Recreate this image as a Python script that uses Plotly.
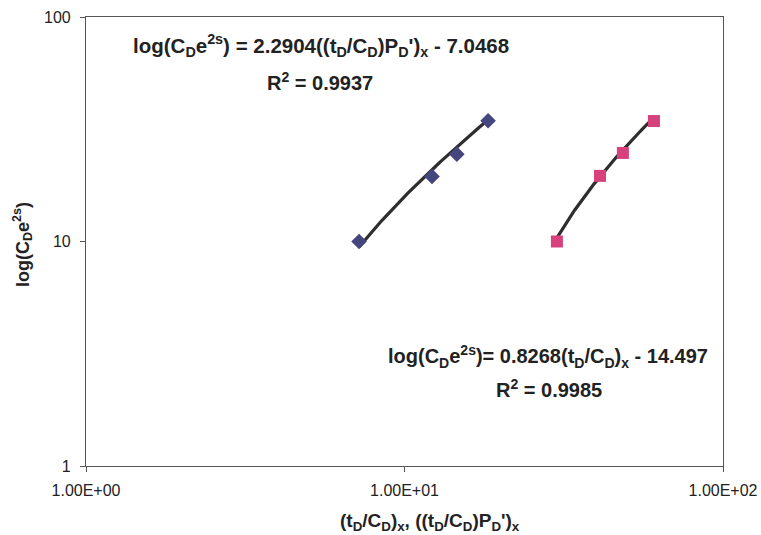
import numpy as np
import plotly.graph_objects as go

# ---- data ----
pd_x = [7.2, 12.2, 14.6, 18.3]          # ((tD/CD)PD')x  (blue diamonds)
pd_y = [10, 19.5, 24.5, 34.5]
td_x = [30.1, 41.1, 48.5, 60.7]         # (tD/CD)x  (magenta squares)
td_y = [10, 19.6, 24.8, 34.4]

# trend line coefficients shown on the chart
pd_slope, pd_icpt = 2.2904, -7.0468
td_slope, td_icpt = 0.8268, -14.497

x_tickvals = [1, 10, 100]
x_ticktext = ["1.00E+00", "1.00E+01", "1.00E+02"]
y_tickvals = [1, 10, 100]
y_ticktext = ["1", "10", "100"]

W, H = 761, 535
L, R, T, B = 86, 723, 17, 466

def px(x):
    return (x - L) / (R - L)

def py(y):
    return (B - y) / (B - T)

FONT = "Liberation Sans, Arial, sans-serif"

fig = go.Figure()

xl = np.linspace(min(pd_x), max(pd_x), 60)
fig.add_trace(go.Scatter(x=xl, y=pd_slope * xl + pd_icpt, mode="lines",
                         line=dict(color="#2e2e2e", width=3.2), hoverinfo="skip",
                         showlegend=False))
xl2 = np.linspace(min(td_x), max(td_x), 60)
fig.add_trace(go.Scatter(x=xl2, y=td_slope * xl2 + td_icpt, mode="lines",
                         line=dict(color="#2e2e2e", width=3.2), hoverinfo="skip",
                         showlegend=False))

fig.add_trace(go.Scatter(x=pd_x, y=pd_y, mode="markers",
                         marker=dict(symbol="diamond", size=12, color="#45467e",
                                     line=dict(width=0)),
                         showlegend=False))
fig.add_trace(go.Scatter(x=td_x, y=td_y, mode="markers",
                         marker=dict(symbol="square", size=12, color="#d8427c",
                                     line=dict(width=0)),
                         showlegend=False))

axis_common = dict(type="log", showgrid=False, zeroline=False,
                   showline=True, linecolor="#555", linewidth=1.2, mirror=True,
                   ticks="outside", ticklen=5, tickcolor="#555", automargin=False,
                   ticklabeloverflow="allow",
                   tickfont=dict(family=FONT, size=16, color="#222"))

fig.update_xaxes(range=[0, 2], tickvals=x_tickvals, ticktext=x_ticktext,
                 ticklabelstandoff=5, **axis_common)
fig.update_yaxes(range=[0, 2], tickvals=y_tickvals, ticktext=y_ticktext,
                 ticklabelstandoff=6, **axis_common)

ann = []
def add(text, x, y, size=20, angle=0):
    ann.append(dict(text=text, x=px(x), y=py(y), xref="paper", yref="paper",
                    showarrow=False, xanchor="center", yanchor="middle",
                    textangle=angle,
                    font=dict(family=FONT, size=size, color="#222")))

add("<b>log(C<sub>D</sub>e<sup>2s</sup>) = 2.2904((t<sub>D</sub>/C<sub>D</sub>)P<sub>D</sub>')<sub>x</sub> - 7.0468</b>", 321, 45, size=20.5)
add("<b>R<sup>2</sup> = 0.9937</b>", 320, 81)
add("<b>log(C<sub>D</sub>e<sup>2s</sup>)= 0.8268(t<sub>D</sub>/C<sub>D</sub>)<sub>x</sub> - 14.497</b>", 548, 356)
add("<b>R<sup>2</sup> = 0.9985</b>", 549, 388)
add("<b>(t<sub>D</sub>/C<sub>D</sub>)<sub>x</sub>, ((t<sub>D</sub>/C<sub>D</sub>)P<sub>D</sub>')<sub>x</sub></b>", 430, 522, size=19)
add("<b>log(C<sub>D</sub>e<sup>2s</sup>)</b>", 22, 245, size=18, angle=-90)

fig.update_layout(width=W, height=H,
                  margin=dict(l=L, r=W - R, t=T, b=H - B, autoexpand=False),
                  paper_bgcolor="white", plot_bgcolor="white",
                  annotations=ann, showlegend=False)

fig.write_html("out.html")
